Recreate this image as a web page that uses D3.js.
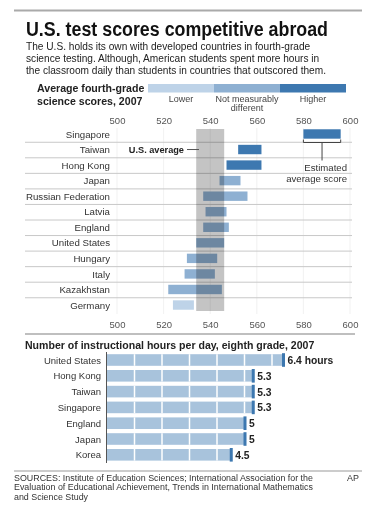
<!DOCTYPE html>
<html><head><meta charset="utf-8">
<script src="https://cdn.jsdelivr.net/npm/d3@7"></script>
<style>
body{margin:0;background:#fff;}
svg{display:block;font-family:"Liberation Sans",Arial,Helvetica,sans-serif;}
</style></head>
<body><svg id="c" width="380" height="512"></svg>
<script>
// ---- data ----
const countries = ["Singapore","Taiwan","Hong Kong","Japan","Russian Federation","Latvia","England","United States","Hungary","Italy","Kazakhstan","Germany"];
const scoreLow  = [580,552,547,544,537,538,537,534,530,529,522,524];
const scoreHigh = [596,562,562,553,556,547,548,546,543,542,545,533];
const status    = ["Higher","Higher","Higher","Same","Same","Same","Same","Same","Same","Same","Same","Lower"];
const scoreTicks = [500,520,540,560,580,600];
const legendCats = ["Lower","Not measurably different","Higher"];

const hourCountries = ["United States","Hong Kong","Taiwan","Singapore","England","Japan","Korea"];
const hours = [6.4,5.3,5.3,5.3,5,5,4.5];
const hourLabels = ["6.4 hours","5.3","5.3","5.3","5","5","4.5"];

// ---- drawing ----
const svg = d3.select("#c");
const colors = {Lower:"#bed3e8", Same:"#8eb0d2", Higher:"#3d78b0"};

// top rule
svg.append("line").attr("x1",14).attr("x2",362).attr("y1",10.5).attr("y2",10.5).attr("stroke","#aaa").attr("stroke-width",2);
svg.append("text").attr("x",26).attr("y",36).attr("font-size",19.5).attr("font-weight","bold").attr("fill","#111")
  .attr("textLength",302).attr("lengthAdjust","spacingAndGlyphs")
  .text("U.S. test scores competitive abroad");
const sub = ["The U.S. holds its own with developed countries in fourth-grade",
  "science testing. Although, American students spent more hours in",
  "the classroom daily than students in countries that outscored them."];
sub.forEach((s,i)=>svg.append("text").attr("x",26).attr("y",50+i*12).attr("font-size",10.15).attr("fill","#222").text(s));

// legend
svg.append("text").attr("x",37).attr("y",92).attr("font-size",10.6).attr("font-weight","bold").attr("fill","#222").text("Average fourth-grade");
svg.append("text").attr("x",37).attr("y",104.5).attr("font-size",10.6).attr("font-weight","bold").attr("fill","#222").text("science scores,  2007");
const legX = d3.scaleBand().domain(legendCats).range([148,346]);
const legCol = [colors.Lower, colors.Same, colors.Higher];
legendCats.forEach((c,i)=>{
  svg.append("rect").attr("x",legX(c)).attr("y",84).attr("width",legX.bandwidth()).attr("height",8.5).attr("fill",legCol[i]);
});
const lf = 9;
svg.append("text").attr("x",legX("Lower")+legX.bandwidth()/2).attr("y",101.5).attr("text-anchor","middle").attr("font-size",lf).attr("fill","#444").text("Lower");
svg.append("text").attr("x",legX(legendCats[1])+legX.bandwidth()/2).attr("y",101.5).attr("text-anchor","middle").attr("font-size",lf).attr("fill","#444").text("Not measurably");
svg.append("text").attr("x",legX(legendCats[1])+legX.bandwidth()/2).attr("y",111).attr("text-anchor","middle").attr("font-size",lf).attr("fill","#444").text("different");
svg.append("text").attr("x",legX("Higher")+legX.bandwidth()/2).attr("y",101.5).attr("text-anchor","middle").attr("font-size",lf).attr("fill","#444").text("Higher");

// score chart
const x = d3.scaleLinear().domain([500,600]).range([117,350]);
const y = d3.scaleBand().domain(countries).range([126.2,312.8]);
const bw = y.bandwidth();
// faint gridlines
svg.append("g").selectAll("line").data(scoreTicks).join("line")
  .attr("x1",d=>x(d)).attr("x2",d=>x(d)).attr("y1",128).attr("y2",314).attr("stroke","#eee").attr("stroke-width",0.8);
// separators
svg.append("g").selectAll("line").data(countries.slice(1)).join("line")
  .attr("x1",25).attr("x2",352).attr("y1",d=>y(d)+0.5).attr("y2",d=>y(d)+0.5).attr("stroke","#c8c8c8").attr("stroke-width",1);
// axes labels
const axTop = d3.axisTop(x).tickValues(scoreTicks).tickSize(0).tickPadding(0);
const gt = svg.append("g").attr("transform","translate(0,124)").call(axTop);
const gb = svg.append("g").attr("transform","translate(0,328)").call(d3.axisTop(x).tickValues(scoreTicks).tickSize(0).tickPadding(0));
[gt,gb].forEach(g=>{g.select(".domain").remove();g.selectAll("text").attr("font-size",9.5).attr("fill","#555").attr("font-family","Liberation Sans,Arial,sans-serif").attr("dy",0);});
// country labels
svg.append("g").selectAll("text").data(countries).join("text")
  .attr("x",110).attr("y",d=>y(d)+bw/2+3.6).attr("text-anchor","end").attr("font-size",9.7).attr("fill","#333").text(d=>d);
// bars
svg.append("g").selectAll("rect").data(countries).join("rect")
  .attr("x",(d,i)=>x(scoreLow[i])).attr("width",(d,i)=>x(scoreHigh[i])-x(scoreLow[i]))
  .attr("y",d=>y(d)+bw/2-4.7).attr("height",9.4).attr("fill",(d,i)=>colors[status[i]]);
// US band
const ui = countries.indexOf("United States");
svg.append("rect").attr("x",x(scoreLow[ui])).attr("width",x(scoreHigh[ui])-x(scoreLow[ui]))
  .attr("y",129).attr("height",182).attr("fill","#c4c4c4").style("mix-blend-mode","multiply");
// U.S. average label
const ty = y("Taiwan")+bw/2;
svg.append("text").attr("x",184).attr("y",ty+3.3).attr("text-anchor","end").attr("font-size",9.2).attr("font-weight","bold").attr("fill","#222").text("U.S. average");
svg.append("line").attr("x1",187).attr("x2",199).attr("y1",ty).attr("y2",ty).attr("stroke","#555").attr("stroke-width",1);
// bracket
const si = 0, by = 142.5;
const bx1 = x(scoreLow[si]), bx2 = x(scoreHigh[si]), bmid=(bx1+bx2)/2;
svg.append("path").attr("d",`M${bx1},${by-3}V${by}H${bx2}V${by-3}M${bmid},${by}V${by+18}`).attr("fill","none").attr("stroke","#444").attr("stroke-width",1);
svg.append("text").attr("x",347).attr("y",171).attr("text-anchor","end").attr("font-size",9.6).attr("fill","#333").text("Estimated");
svg.append("text").attr("x",347).attr("y",181.8).attr("text-anchor","end").attr("font-size",9.6).attr("fill","#333").text("average score");

// hours chart
svg.append("line").attr("x1",25).attr("x2",355).attr("y1",334).attr("y2",334).attr("stroke","#aaa").attr("stroke-width",1.5);
svg.append("text").attr("x",25).attr("y",348.5).attr("font-size",10.55).attr("font-weight","bold").attr("fill","#222").text("Number of instructional hours per day, eighth grade, 2007");
const hx = d3.scaleLinear().domain([0,1]).range([107,134.5]);
const hy = d3.scaleBand().domain(hourCountries).range([352.1,462.7]);
const hb = hy.bandwidth();
svg.append("g").selectAll("rect").data(hourCountries).join("rect")
  .attr("x",hx(0)).attr("width",(d,i)=>hx(hours[i])-hx(0)).attr("y",d=>hy(d)+hb/2-5.8).attr("height",11.6).attr("fill","#a8c3dc");
// white dividers at each hour
hourCountries.forEach((c,i)=>{
  const ticks = d3.range(1,Math.ceil(hours[i])).filter(t=>t<hours[i]);
  svg.append("g").selectAll("line").data(ticks).join("line")
    .attr("x1",t=>hx(t)).attr("x2",t=>hx(t)).attr("y1",hy(c)+hb/2-5.8).attr("y2",hy(c)+hb/2+5.8).attr("stroke","#fff").attr("stroke-width",1.5);
});
// end markers
svg.append("g").selectAll("rect").data(hourCountries).join("rect")
  .attr("x",(d,i)=>hx(hours[i])-1).attr("width",3).attr("y",d=>hy(d)+hb/2-6.8).attr("height",13.6).attr("fill","#3d78b0");
svg.append("g").selectAll("text.v").data(hourCountries).join("text")
  .attr("x",(d,i)=>hx(hours[i])+4.5).attr("y",d=>hy(d)+hb/2+4).attr("font-size",10.3).attr("font-weight","bold").attr("fill","#222").text((d,i)=>hourLabels[i]);
svg.append("g").selectAll("text.c").data(hourCountries).join("text")
  .attr("x",101).attr("y",d=>hy(d)+hb/2+3.6).attr("text-anchor","end").attr("font-size",9.5).attr("fill","#333").text(d=>d);
svg.append("line").attr("x1",106.5).attr("x2",106.5).attr("y1",352).attr("y2",463).attr("stroke","#555").attr("stroke-width",1);

// sources
svg.append("line").attr("x1",14).attr("x2",362).attr("y1",471).attr("y2",471).attr("stroke","#999").attr("stroke-width",1);
const src = ["SOURCES: Institute of Education Sciences; International Association for the",
  "Evaluation of Educational Achievement, Trends in International Mathematics",
  "and Science Study"];
src.forEach((s,i)=>svg.append("text").attr("x",14).attr("y",481+i*9.3).attr("font-size",8.9).attr("fill","#333").text(s));
svg.append("text").attr("x",347).attr("y",481).attr("font-size",8.9).attr("fill","#333").text("AP");
</script></body></html>
